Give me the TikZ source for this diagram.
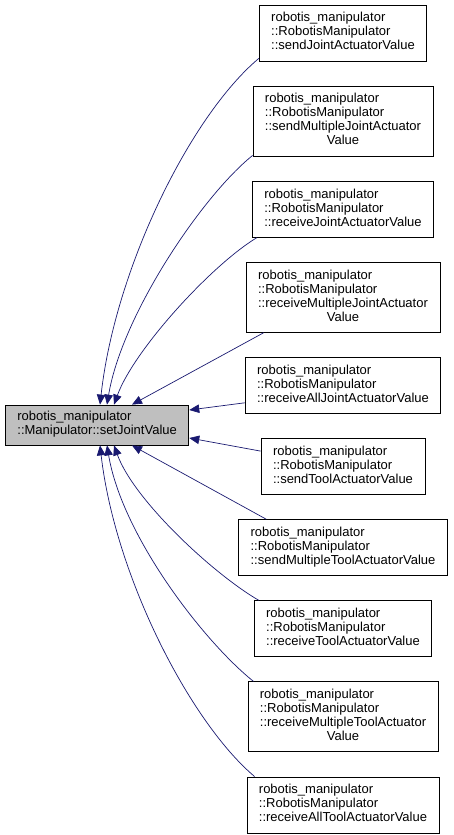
\documentclass[tikz,border=0pt]{standalone}
\usepackage{fontspec}
\setmainfont{Liberation Sans}
\usetikzlibrary{arrows.meta,positioning}

\definecolor{edgeblue}{RGB}{25,25,112}
\definecolor{boxgray}{RGB}{191,191,191}

\newcommand{\member}[1]{\begin{tabular}{@{}l@{}}robotis\_manipulator\\::RobotisManipulator\\::#1\end{tabular}}
\newcommand{\membersplit}[1]{\begin{tabular}{@{}l@{}}robotis\_manipulator\\::RobotisManipulator\\::#1\\\multicolumn{1}{@{}c@{}}{Value}\end{tabular}}

\begin{document}
\begin{tikzpicture}[x=1pt, y=1pt, >={Triangle[length=10pt,width=8.5pt]},
    member/.style={rectangle, draw=black, fill=white, font=\fontsize{13}{14}\selectfont, inner xsep=12pt, inner ysep=7pt, line width=0.8pt},
    current/.style={member, fill=boxgray, inner ysep=6pt},
    edge/.style={draw=edgeblue, ->, line width=0.7pt}]

    \useasboundingbox (0,0) rectangle (453,-835);

    \node [current, anchor=west] (main) at (5,-425) {
        \begin{tabular}{@{}l@{}}robotis\_manipulator\\::Manipulator::setJointValue\end{tabular}
    };

    \node [member] (sendjoint) at (343,-33) {\member{sendJointActuatorValue}};
    \node [member, below=24.3pt of sendjoint] (sendmultijoint) {\membersplit{sendMultipleJointActuator}};
    \node [member, below=24.3pt of sendmultijoint] (recvjoint) {\member{receiveJointActuatorValue}};
    \node [member, below=24.3pt of recvjoint] (recvmultijoint) {\membersplit{receiveMultipleJointActuator}};
    \node [member, below=24.3pt of recvmultijoint] (recvalljoint) {\member{receiveAllJointActuatorValue}};
    \node [member, below=24.3pt of recvalljoint] (sendtool) {\member{sendToolActuatorValue}};
    \node [member, below=24.3pt of sendtool] (sendmultitool) {\member{sendMultipleToolActuatorValue}};
    \node [member, below=24.3pt of sendmultitool] (recvtool) {\member{receiveToolActuatorValue}};
    \node [member, below=24.3pt of recvtool] (recvmultitool) {\membersplit{receiveMultipleToolActuator}};
    \node [member, below=24.3pt of recvmultitool] (recvalltool) {\member{receiveAllToolActuatorValue}};

    % callers above
    \draw[edge] ([yshift=3pt]sendjoint.south west) .. controls +(-69,-58) and +(15,135) .. ([xshift=95pt]main.north west);
    \draw[edge] ([yshift=1pt]sendmultijoint.south west) .. controls +(-50,-40) and +(15,90) .. ([xshift=102pt]main.north west);
    \draw[edge] ([xshift=5pt]recvjoint.south west) .. controls +(-45,-27) and +(20,55) .. ([xshift=109pt]main.north west);
    \draw[edge] ([xshift=18pt]recvmultijoint.south west) -- ([xshift=127pt]main.north west);
    % callers beside
    \draw[edge] ([yshift=11pt]recvalljoint.south west) -- ([yshift=15pt]main.east);
    \draw[edge] ([yshift=-13pt]sendtool.north west) -- ([yshift=-13pt]main.east);
    % callers below
    \draw[edge] ([xshift=28pt]sendmultitool.north west) -- ([xshift=127pt]main.south west);
    \draw[edge] ([xshift=5pt]recvtool.north west) .. controls +(-45,26) and +(20,-55) .. ([xshift=109pt]main.south west);
    \draw[edge] ([xshift=6pt]recvmultitool.north west) .. controls +(-50,40) and +(15,-90) .. ([xshift=102pt]main.south west);
    \draw[edge] ([xshift=8pt]recvalltool.north west) .. controls +(-65,55) and +(15,-130) .. ([xshift=95pt]main.south west);

\end{tikzpicture}
\end{document}
